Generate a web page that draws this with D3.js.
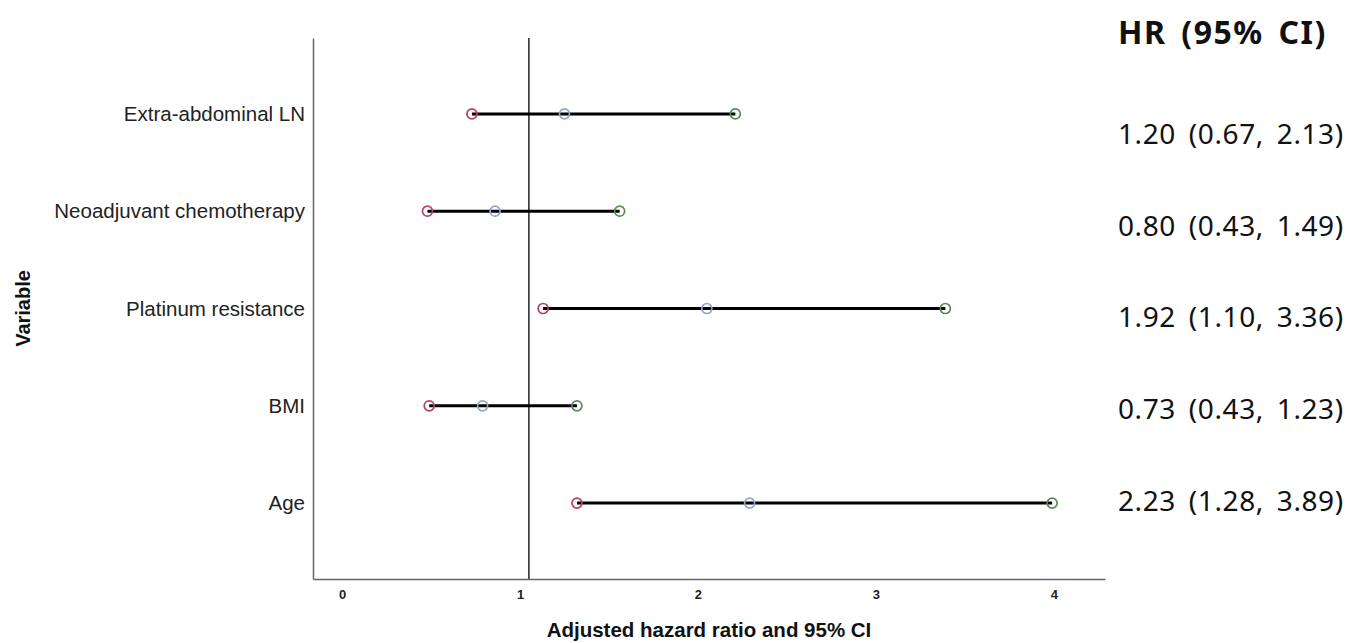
<!DOCTYPE html>
<html>
<head>
<meta charset="utf-8">
<script src="https://cdn.jsdelivr.net/npm/d3@7"></script>
<style>
    body { margin: 0; background: #fff; }
    .catlabel { font-family: 'Liberation Sans', Arial, sans-serif; font-size: 20.5px; fill: #222; }
    .ticklabel { font-family: 'Liberation Sans', Arial, sans-serif; font-size: 13px; font-weight: bold; fill: #222; }
    .axistitle { font-family: 'Liberation Sans', Arial, sans-serif; font-size: 20.5px; font-weight: bold; fill: #111; }
    .ytitle { font-family: 'Liberation Sans', Arial, sans-serif; font-size: 20px; font-weight: bold; fill: #111; }
    .hrtitle { font-family: 'Noto Sans', sans-serif; font-size: 32px; font-weight: bold; fill: #111; letter-spacing: 1.5px; word-spacing: 5px; }
    .hrvalue { font-family: 'Noto Sans', sans-serif; font-size: 28px; fill: #111; letter-spacing: 0.6px; word-spacing: 5px; }
</style>
</head>
<body>
<div id="chart"></div>
<script>
'use strict';
// Values (the text column is kept as printed)
const variables = ['Extra-abdominal LN', 'Neoadjuvant chemotherapy', 'Platinum resistance', 'BMI', 'Age']
const hrPoint = [1.25, 0.86, 2.05, 0.79, 2.29]
const ciLower = [0.73, 0.48, 1.13, 0.49, 1.32]
const ciUpper = [2.21, 1.56, 3.39, 1.32, 3.99]
const hrLabels = ['1.20 (0.67, 2.13)', '0.80 (0.43, 1.49)', '1.92 (1.10, 3.36)', '0.73 (0.43, 1.23)', '2.23 (1.28, 3.89)']
const xTicks = [0, 1, 2, 3, 4]
const refValue = 1.05

const W = 1365
const H = 643
const plot = { left: 313, right: 1105, top: 38, bottom: 579 }
const colLower = '#b8405e'
const colPoint = '#8ea8cc'
const colUpper = '#5b8a58'

const svg = d3.select('#chart').append('svg')
    .attr('width', W)
    .attr('height', H)

const x = d3.scaleLinear()
    .domain([-0.163, 4.287])
    .range([plot.left, plot.right])
const y = d3.scalePoint()
    .domain(variables)
    .range([plot.top, plot.bottom])
    .padding(0.78)
const yText = d3.scalePoint() // right hand HR column sits slightly off the rows
    .domain(variables)
    .range([134, 501])

const rows = variables.map((v, i) => ({ name: v, lo: ciLower[i], hr: hrPoint[i], hi: ciUpper[i], label: hrLabels[i] }))

svg.append('line') // Reference line
    .attr('x1', x(refValue))
    .attr('x2', x(refValue))
    .attr('y1', plot.top)
    .attr('y2', plot.bottom)
    .attr('stroke', '#222')
    .attr('stroke-width', 1.5)

svg.append('g') // CI whiskers
    .selectAll('line').data(rows).enter().append('line')
    .attr('x1', d => x(d.lo))
    .attr('x2', d => x(d.hi))
    .attr('y1', d => y(d.name))
    .attr('y2', d => y(d.name))
    .attr('stroke', '#000')
    .attr('stroke-width', 3)

const markers = [['lo', colLower], ['hr', colPoint], ['hi', colUpper]]
markers.forEach(([key, col]) => {
    svg.append('g')
        .selectAll('circle').data(rows).enter().append('circle')
        .attr('cx', d => x(d[key]))
        .attr('cy', d => y(d.name))
        .attr('r', 5)
        .attr('fill', 'none')
        .attr('stroke', col)
        .attr('stroke-width', 1.7)
})

const xAxis = svg.append('g') // x axis, no tick marks
    .attr('transform', `translate(0, ${plot.bottom})`)
    .call(d3.axisBottom(x).tickValues(xTicks).tickSize(0).tickPadding(11).tickFormat(d3.format('d')))
xAxis.select('.domain').attr('stroke', '#666').attr('stroke-width', 1.5)
xAxis.selectAll('text').attr('class', 'ticklabel').attr('font-family', null).attr('font-size', null).attr('fill', null)

const yAxis = svg.append('g') // y axis with category names
    .attr('transform', `translate(${plot.left}, 0)`)
    .call(d3.axisLeft(y).tickSize(0).tickPadding(8))
yAxis.select('.domain').attr('stroke', '#666').attr('stroke-width', 1.5)
yAxis.selectAll('text').attr('class', 'catlabel').attr('font-family', null).attr('font-size', null).attr('fill', null)

svg.append('text') // x axis title
    .attr('class', 'axistitle')
    .attr('text-anchor', 'middle')
    .attr('x', 709)
    .attr('y', 637)
    .text('Adjusted hazard ratio and 95% CI')

svg.append('text') // y axis title
    .attr('class', 'ytitle')
    .attr('text-anchor', 'middle')
    .attr('transform', `translate(30, ${(plot.top + plot.bottom) / 2}) rotate(-90)`)
    .text('Variable')

svg.append('text') // HR column header
    .attr('class', 'hrtitle')
    .attr('x', 1118)
    .attr('y', 44)
    .text('HR (95% CI)')

svg.append('g') // HR column values
    .selectAll('text').data(rows).enter().append('text')
    .attr('class', 'hrvalue')
    .attr('x', 1118)
    .attr('y', d => yText(d.name))
    .attr('dy', '0.35em')
    .text(d => d.label)
</script>
</body>
</html>
